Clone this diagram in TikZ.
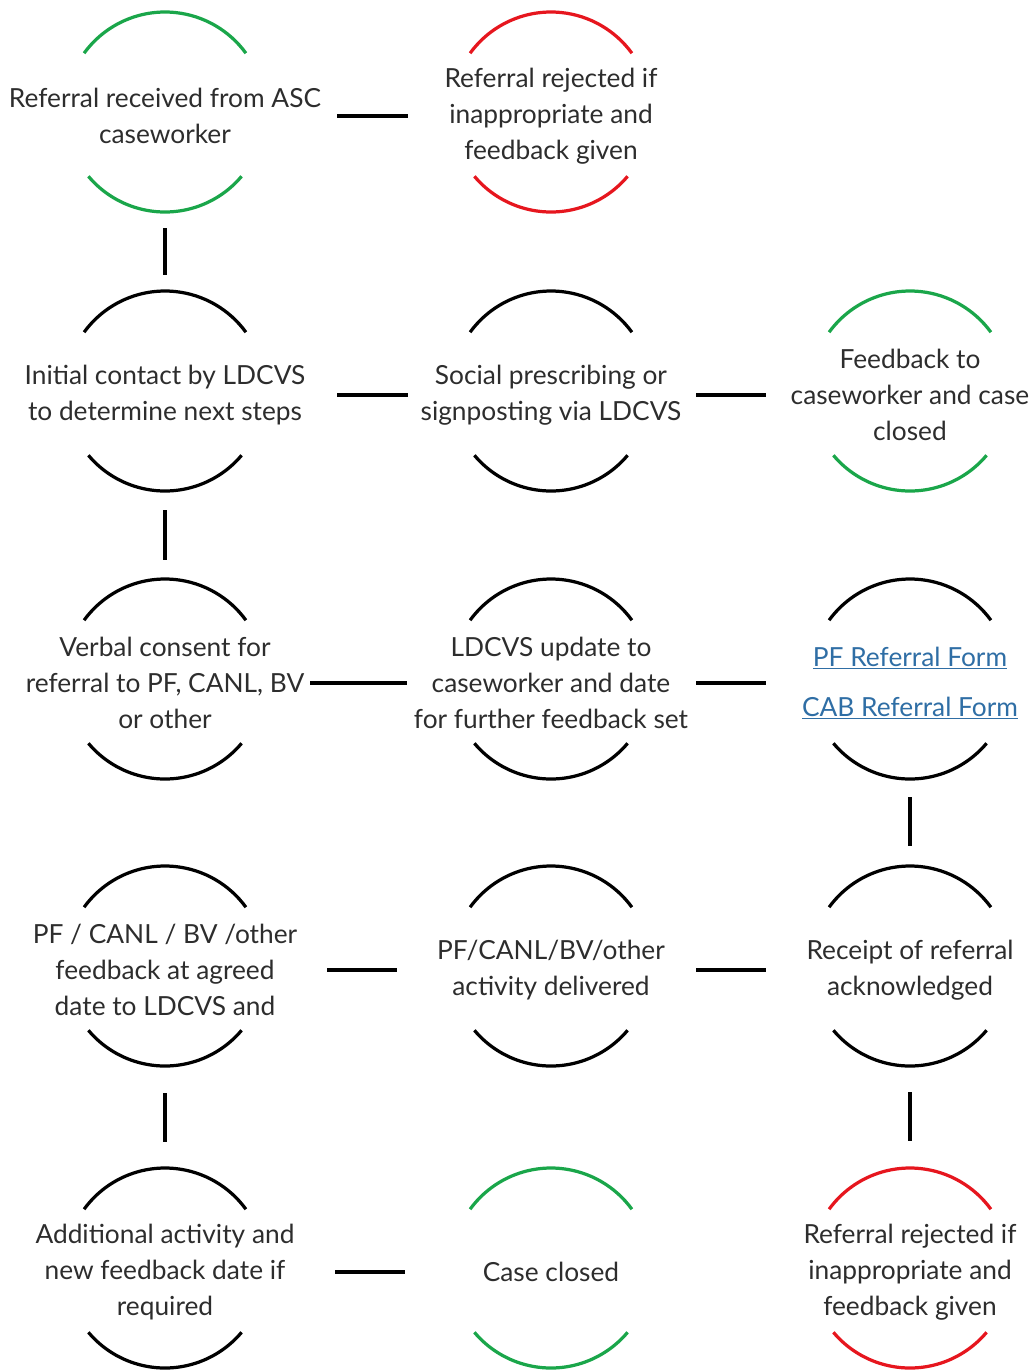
\documentclass[tikz,border=0pt]{standalone}
\usepackage{fontspec}
\setmainfont{Lato}
\definecolor{okgreen}{RGB}{26,166,74}
\definecolor{nored}{RGB}{230,22,30}
\definecolor{linkblue}{RGB}{47,110,165}
\definecolor{txtgray}{RGB}{45,45,45}

\tikzset{
  stage/.style={align=center, text=txtgray, inner sep=0pt,
    font=\fontsize{18.7}{25.6}\selectfont},
  rim/.style={line width=2.3pt},
  link/.style={line width=2.8pt},
}

\begin{document}
\begin{tikzpicture}[x=0.025cm, y=0.025cm]

\useasboundingbox (0,0) rectangle (1031,-1370);

% first row
\node[stage] (rcv) at (165,-116) {Referral received from ASC\\caseworker};
\node[stage] (rejtop) at (551,-116) {Referral rejected if\\inappropriate and\\feedback given};

% second row
\node[stage] (init) at (165,-395) {Initial contact by LDCVS\\to determine next steps};
\node[stage] (social) at (551,-395) {Social prescribing or\\signposting via LDCVS};
\node[stage] (fback) at (910,-395) {Feedback to\\caseworker and case\\closed};

% third row
\node[stage] (consent) at (165,-683) {Verbal consent for\\referral to PF, CANL, BV\\or other};
\node[stage] (update) at (551,-683) {LDCVS update to\\caseworker and date\\for further feedback set};
\node[stage, text=linkblue] (forms) at (910,-683)
  {\underline{PF Referral Form}\\[0.35cm]\underline{CAB Referral Form}};

% fourth row
\node[stage] (pfback) at (165,-970) {PF / CANL / BV /other\\feedback at agreed\\date to LDCVS and};
\node[stage] (deliv) at (551,-970) {PF/CANL/BV/other\\activity delivered};
\node[stage] (rcpt) at (910,-970) {Receipt of referral\\acknowledged};

% fifth row
\node[stage] (addit) at (165,-1272) {Additional activity and\\new feedback date if\\required};
\node[stage] (closed) at (551,-1272) {Case closed};
\node[stage] (rejbot) at (910,-1272) {Referral rejected if\\inappropriate and\\feedback given};

% arcs above and below each stage
\foreach \n/\c in {rcv/okgreen, rejtop/nored, init/black, social/black,
  fback/okgreen, consent/black, update/black, forms/black, pfback/black,
  deliv/black, rcpt/black, addit/black, closed/okgreen, rejbot/nored}{
  \draw[rim, \c] ([shift={(144:100)}, yshift=0.1cm]\n.center) arc (144:36:100);
  \draw[rim, \c] ([shift={(-140:100)}, yshift=0.1cm]\n.center) arc (-140:-40:100);
}

% horizontal links
\draw[link] ([xshift=4.3cm]rcv.center) -- ([xshift=-3.575cm]rejtop.center);
\draw[link] ([xshift=4.3cm]init.center) -- ([xshift=-3.575cm]social.center);
\draw[link] ([xshift=3.625cm]social.center) -- ([xshift=-3.6cm]fback.center);
\draw[link] ([xshift=3.625cm]consent.center) -- ([xshift=-3.6cm]update.center);
\draw[link] ([xshift=3.625cm]update.center) -- ([xshift=-3.6cm]forms.center);
\draw[link] ([xshift=4.05cm]pfback.center) -- ([xshift=-3.85cm]deliv.center);
\draw[link] ([xshift=3.625cm]deliv.center) -- ([xshift=-3.6cm]rcpt.center);
\draw[link] ([xshift=4.25cm]addit.center) -- ([xshift=-3.65cm]closed.center);

% vertical links
\draw[link] ([yshift=-2.8cm]rcv.center) -- ([yshift=3cm]init.center);
\draw[link] ([yshift=-2.875cm]init.center) -- ([yshift=3.075cm]consent.center);
\draw[link] ([yshift=-2.85cm]forms.center) -- ([yshift=3.1cm]rcpt.center);
\draw[link] ([yshift=-3.075cm]pfback.center) -- ([yshift=3.25cm]addit.center);
\draw[link] ([yshift=-3.05cm]rcpt.center) -- ([yshift=3.275cm]rejbot.center);

\end{tikzpicture}
\end{document}
